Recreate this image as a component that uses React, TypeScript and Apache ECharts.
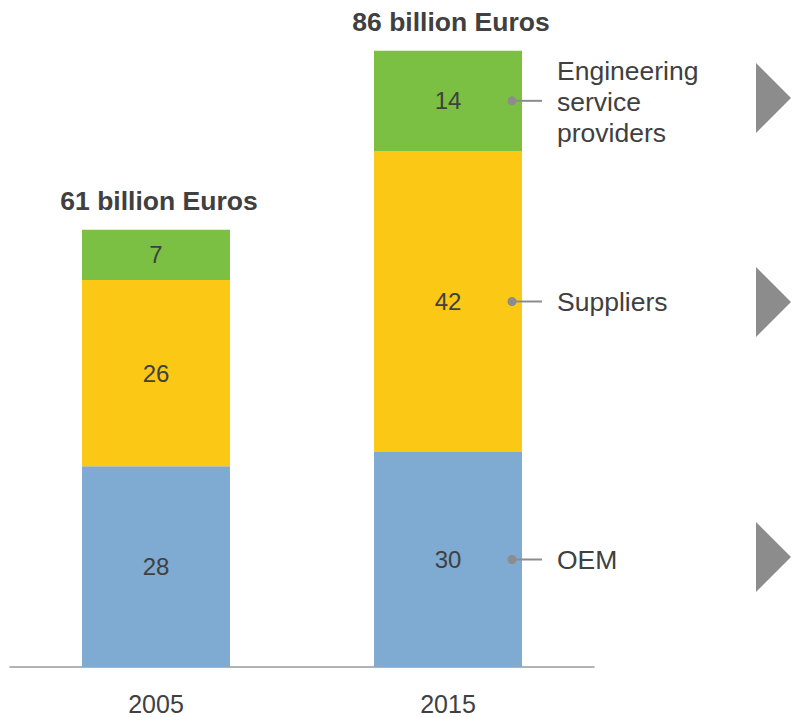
import React, { useEffect, useRef } from "react";
import * as echarts from "echarts";

const years = ["2005", "2015"];
const oem = [28, 30];
const suppliers = [26, 42];
const engineering = [7, 14];
const totalLabels = ["61 billion Euros", "86 billion Euros"];
const segmentNames = ["OEM", "Suppliers", "Engineering\nservice\nproviders"];

const FONT = "'Liberation Sans', Arial, Helvetica, sans-serif";
const TEXT = "#404040";
const GRAY = "#8c8c8c";

export default function App() {
  const ref = useRef<HTMLDivElement>(null);
  useEffect(() => {
    if (!ref.current) return;
    const chart = echarts.init(ref.current, undefined, { renderer: "svg" });
    const totals = years.map((_, i) => oem[i] + suppliers[i] + engineering[i]);
    const valueLabel = {
      show: true,
      position: "inside" as const,
      color: TEXT,
      fontSize: 24,
      fontFamily: FONT,
    };
    chart.setOption({
      animation: false,
      textStyle: { fontFamily: FONT },
      grid: { left: 10, right: 198, top: 22, bottom: 50 },
      xAxis: {
        type: "category",
        data: years,
        axisLine: { lineStyle: { color: "#999999", width: 1.5 } },
        axisTick: { show: false },
        axisLabel: { color: TEXT, fontSize: 25, fontFamily: FONT, margin: 24, lineHeight: 25 },
      },
      yAxis: { type: "value", min: 0, max: 90, show: false },
      series: [
        {
          type: "bar",
          stack: "t",
          data: oem,
          barWidth: 148,
          itemStyle: { color: "#7faad2" },
          label: valueLabel,
        },
        {
          type: "bar",
          stack: "t",
          data: suppliers,
          barWidth: 148,
          itemStyle: { color: "#fcc816" },
          label: valueLabel,
        },
        {
          type: "bar",
          stack: "t",
          data: engineering,
          barWidth: 148,
          itemStyle: { color: "#7cc043" },
          label: valueLabel,
        },
        {
          type: "scatter",
          data: totals,
          symbolSize: 0,
          silent: true,
          itemStyle: { opacity: 1 },
          label: {
            show: true,
            position: "top",
            distance: 15,
            offset: [3, 0],
            formatter: (p: any) => totalLabels[p.dataIndex],
            color: TEXT,
            fontSize: 26.5,
            fontWeight: "bold",
            fontFamily: FONT,
          },
        },
      ],
    });

    // legend annotations attached to 2015 bar segments
    const i = 1;
    const mids = [
      oem[i] / 2,
      oem[i] + suppliers[i] / 2,
      oem[i] + suppliers[i] + engineering[i] / 2,
    ];
    const graphics: any[] = [];
    mids.forEach((m, k) => {
      const [cx, cy] = chart.convertToPixel({ gridIndex: 0 }, [i, m]) as number[];
      const dotX = cx + 64;
      graphics.push({
        type: "line",
        z: 100,
        shape: { x1: dotX, y1: cy, x2: dotX + 30, y2: cy },
        style: { stroke: GRAY, lineWidth: 2 },
      });
      graphics.push({
        type: "circle",
        z: 101,
        shape: { cx: dotX, cy, r: 4.5 },
        style: { fill: GRAY },
      });
      graphics.push({
        type: "text",
        z: 100,
        x: dotX + 45,
        y: cy + (k === 2 ? 1 : 0),
        style: {
          text: segmentNames[k],
          fill: TEXT,
          fontSize: 26.5,
          fontFamily: FONT,
          lineHeight: 31,
          verticalAlign: "middle",
          align: "left",
        },
      });
    });
    const triCenters = [98, 302, 557];
    triCenters.forEach((c) => {
      graphics.push({
        type: "polygon",
        z: 100,
        shape: { points: [[756, c - 35], [791, c], [756, c + 35]] },
        style: { fill: GRAY },
      });
    });
    chart.setOption({ graphic: graphics });
    return () => chart.dispose();
  }, []);
  return (
    <div
      ref={ref}
      style={{ position: "absolute", left: 0, top: 0, width: 792, height: 717 }}
    />
  );
}
